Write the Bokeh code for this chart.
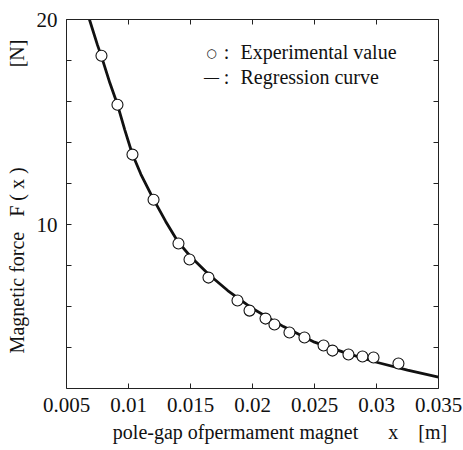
import math
from bokeh.plotting import figure
from bokeh.models import FixedTicker, LinearAxis, Range1d, CustomJSTickFormatter
from bokeh.core.properties import value
from bokeh.embed import file_html
from bokeh.resources import INLINE

exp_x = [0.00782, 0.00911, 0.01032, 0.01202, 0.01403, 0.01492, 0.01645, 0.01879,
         0.01976, 0.02105, 0.02177, 0.02298, 0.02419, 0.02573, 0.02645, 0.02774,
         0.02887, 0.02976, 0.03177]
exp_y = [18.23, 15.84, 13.41, 11.21, 9.07, 8.29, 7.41, 6.29,
         5.80, 5.41, 5.12, 4.73, 4.49, 4.10, 3.85, 3.66,
         3.56, 3.51, 3.22]

# regression curve
curve_x = [0.00685, 0.0075, 0.00782, 0.0085, 0.00911, 0.0097, 0.0103, 0.011, 0.012,
           0.013, 0.014, 0.015, 0.0165, 0.018, 0.02, 0.0225, 0.025, 0.0275, 0.03,
           0.0325, 0.035]
curve_y = [20.0, 18.75, 18.2, 16.9, 15.85, 14.62, 13.45, 12.45, 11.25,
           10.15, 9.15, 8.44, 7.55, 6.78, 5.9, 5.02, 4.26, 3.74, 3.28,
           2.9, 2.55]

x_ticks = [0.005, 0.01, 0.015, 0.02, 0.025, 0.03, 0.035]
x_tick_labels = ["0.005", "0.01", "0.015", "0.02", "0.025", "0.03", "0.035"]
y_ticks = [10, 20]
y_tick_labels = ["10", "20"]
y_minor_ticks = [4, 6, 8, 12, 14, 16, 18]

NB = "\u00a0"
x_title = NB * 11 + "pole-gap ofpermament magnet" + NB * 6 + "x" + NB * 4 + "[m]"
y_title = NB * 3 + "Magnetic force" + NB * 3 + "F" + NB + "(" + NB + "x" + NB + ")" + NB * 20 + "[N]"

FONT = "Liberation Serif"
INK = "#111111"
FRAME = "#222222"

p = figure(width=463, height=450, x_range=Range1d(0.005, 0.035), y_range=Range1d(2, 20),
           output_backend="svg", toolbar_location=None,
           x_axis_location=None, y_axis_location=None,
           min_border_left=66, min_border_right=25, min_border_top=19, min_border_bottom=62)
p.outline_line_color = None
p.background_fill_color = "white"
p.border_fill_color = "white"
for g in p.grid:
    g.visible = False


def style_axis(ax, show_labels):
    ax.axis_line_color = FRAME
    ax.axis_line_width = 1
    ax.major_tick_in = 5
    ax.major_tick_out = 0
    ax.minor_tick_in = 5
    ax.minor_tick_out = 0
    ax.major_tick_line_color = FRAME
    ax.minor_tick_line_color = FRAME
    ax.major_label_text_font = FONT
    ax.major_label_text_color = INK
    ax.axis_label_text_font = FONT
    ax.axis_label_text_font_style = "normal"
    ax.axis_label_text_font_size = "20px"
    ax.axis_label_text_color = INK
    if show_labels:
        ax.major_label_text_font_size = "21px"
    else:
        ax.formatter = CustomJSTickFormatter(code="return ''")
        ax.major_label_text_font_size = "1px"
        ax.major_label_standoff = 0


xb = LinearAxis(ticker=FixedTicker(ticks=x_ticks, minor_ticks=[]),
                major_label_overrides=dict(zip(x_ticks, x_tick_labels)),
                axis_label=x_title)
style_axis(xb, True)
xb.major_label_standoff = 9
xb.axis_label_standoff = 6
p.add_layout(xb, "below")

xt = LinearAxis(ticker=FixedTicker(ticks=x_ticks, minor_ticks=[]))
style_axis(xt, False)
p.add_layout(xt, "above")

yl = LinearAxis(ticker=FixedTicker(ticks=y_ticks, minor_ticks=y_minor_ticks),
                major_label_overrides=dict(zip(y_ticks, y_tick_labels)),
                axis_label=y_title)
style_axis(yl, True)
yl.major_label_standoff = 9
yl.axis_label_standoff = 6
p.add_layout(yl, "left")

yr = LinearAxis(ticker=FixedTicker(ticks=y_ticks, minor_ticks=y_minor_ticks))
style_axis(yr, False)
p.add_layout(yr, "right")

p.line(curve_x, curve_y, line_color="#111111", line_width=2.8)
p.scatter(exp_x, exp_y, marker="circle", size=11, fill_color="white",
          line_color="#111111", line_width=1.1)


# helpers: picture pixel -> data coordinate (for legend text placement)
def dx(px):
    return 0.005 + (px - 66) * 0.005 / 62


def dy(py):
    return 20 - (py - 19) / 20.5


def gtext(px, py, text, style="normal", align="left", size="20px", font=FONT):
    p.text(x=[dx(px)], y=[dy(py)], text=[text], text_font=value(font),
           text_font_size=value(size), text_font_style=style, text_color=INK,
           text_align=align, text_baseline="middle")


# legend (inside the frame)
gtext(211, 52, "○", align="center", size="12px", font="DejaVu Sans")
gtext(226, 51, ":", align="center")
gtext(240, 51, "Experimental value")
gtext(211, 76, "—", align="center", style="bold", size="15px")
gtext(226, 76, ":", align="center")
gtext(240, 76, "Regression curve")

open("out.html", "w").write(file_html(p, INLINE))
